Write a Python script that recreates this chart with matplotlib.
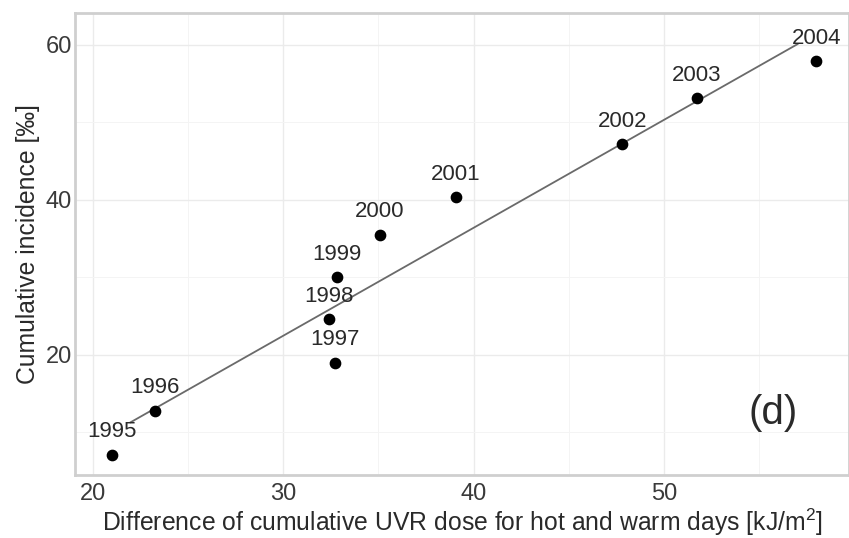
import numpy as np
import matplotlib
matplotlib.use("Agg")
import matplotlib.pyplot as plt
from matplotlib.ticker import MultipleLocator

years = ["1995", "1996", "1997", "1998", "1999", "2000", "2001", "2002", "2003", "2004"]
uvr_diff = [21.0, 23.28, 32.73, 32.4, 32.82, 35.09, 39.08, 47.81, 51.72, 57.98]
incidence = [7.1, 12.8, 19.0, 24.6, 30.0, 35.5, 40.35, 47.2, 53.1, 57.9]
fit_x_range = [22.0, 57.0]
x_ticks = [20, 30, 40, 50]
y_ticks = [20, 40, 60]

plt.rcParams['font.family'] = ['Liberation Sans', 'DejaVu Sans']
plt.rcParams['mathtext.fontset'] = 'custom'
plt.rcParams['mathtext.rm'] = 'Liberation Sans'
plt.rcParams['mathtext.it'] = 'Liberation Sans'

fig = plt.figure(figsize=(8.49, 5.38), dpi=100)
ax = fig.add_axes([75/849, 1 - 475/538, (849 - 75)/849, (475 - 13)/538])

ax.set_xlim(19.08, 59.7)
ax.set_ylim(4.5, 64.1)

ax.xaxis.set_minor_locator(MultipleLocator(5))
ax.yaxis.set_minor_locator(MultipleLocator(10))
ax.set_xticks(x_ticks)
ax.set_yticks(y_ticks)
ax.grid(which='major', color='#ebebeb', linewidth=1.0)
ax.grid(which='minor', color='#f4f4f4', linewidth=0.7)
ax.set_axisbelow(True)

for s in ax.spines.values():
    s.set_color('#cfcfcf')
    s.set_linewidth(2.0)

ax.tick_params(axis='both', which='both', length=0, labelsize=17, labelcolor='#3a3a3a')
ax.tick_params(axis='x', pad=6)
ax.tick_params(axis='y', pad=2)

# regression line
coef = np.polyfit(uvr_diff, incidence, 1)
fx = np.array(fit_x_range)
ax.plot(fx, np.polyval(coef, fx), color='#6a6a6a', linewidth=1.3, zorder=2)

ax.scatter(uvr_diff, incidence, s=55, color='black', zorder=3)

for yr, xv, yv in zip(years, uvr_diff, incidence):
    ax.annotate(yr, (xv, yv), xytext=(0, 9), textcoords='offset points',
                ha='center', va='bottom', fontsize=16, color='#2a2a2a', zorder=4)

ax.text(0.902, 0.134, "(d)", transform=ax.transAxes, ha='center', va='center',
        fontsize=29, color='#2a2a2a')

ax.set_xlabel(r"Difference of cumulative UVR dose for hot and warm days [kJ/m$^2$]",
              fontsize=17.8, color='#2a2a2a', labelpad=1)
ax.set_ylabel("Cumulative incidence [‰]", fontsize=17.8, color='#2a2a2a', labelpad=4)

fig.savefig("out.png", dpi=100, facecolor='white')
